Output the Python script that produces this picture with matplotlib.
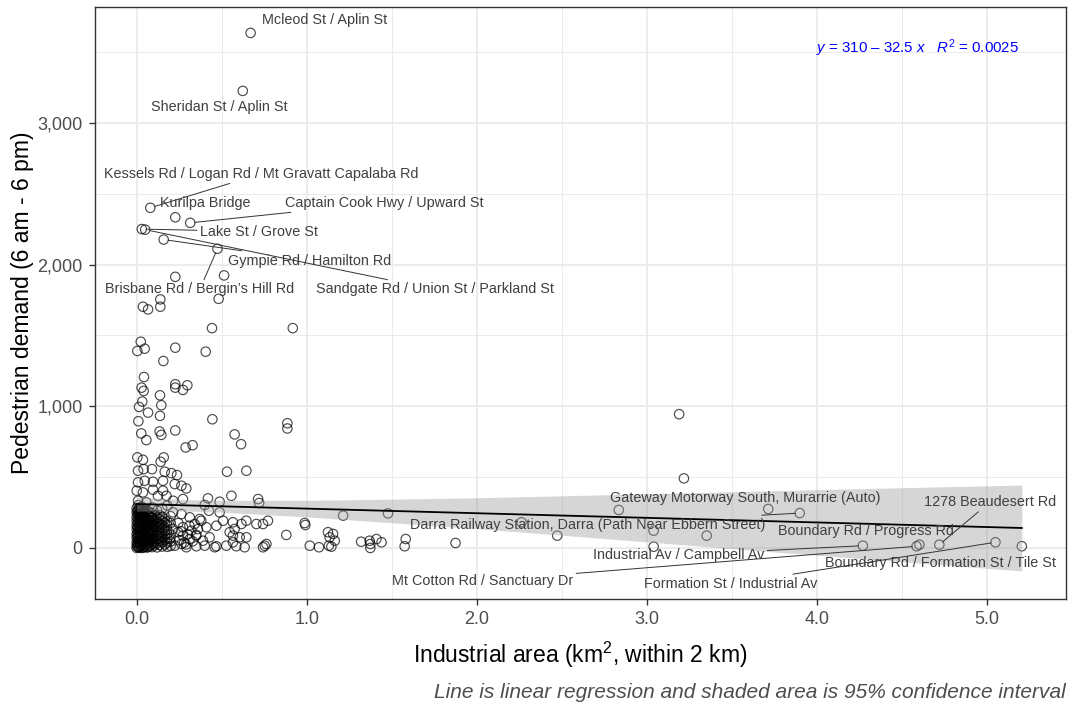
import matplotlib
matplotlib.use('Agg')
import matplotlib.pyplot as plt
from matplotlib.ticker import FuncFormatter, MultipleLocator

plt.rcParams['font.family'] = ['Liberation Sans', 'DejaVu Sans']
plt.rcParams['mathtext.fontset'] = 'custom'
plt.rcParams['mathtext.rm'] = 'Liberation Sans'
plt.rcParams['mathtext.it'] = 'Liberation Sans:italic'

# sites: industrial area within 2 km (km2) and pedestrian counts 6am-6pm
industrial_km2 = [
    0.67, 0.624, 0.08, 0.227, 0.315, 0.03, 0.05, 0.159, 0.475,
    0.227, 0.514, 0.482, 0.139, 0.037, 0.067, 0.139, 0.443, 0.918,
    0.024, 0.004, 0.047, 0.227, 0.406, 0.157,
    0.043, 0.029, 0.041, 0.227, 0.227, 0.272, 0.298,
    0.137, 0.033, 0.145, 0.014, 0.067, 0.137, 0.01, 0.445, 0.886, 0.886,
    0.027, 0.057, 0.135, 0.145, 0.227, 0.576, 0.614, 0.288, 0.329,
    0.004, 0.037, 0.159, 0.141,
    0.008, 0.041, 0.09, 0.165, 0.204, 0.237, 0.531, 0.645,
    0.008, 0.047, 0.096, 0.155, 0.224, 0.263,
    0.0, 0.037, 0.096, 0.155, 0.292, 0.175, 0.125,
    0.008, 0.057, 0.214, 0.272, 0.419, 0.488, 0.557, 0.714, 0.72,
    0.4, 0.425, 0.488, 0.214, 0.263, 0.312, 0.371,
    0.341, 0.38, 0.41, 0.469,
    0.508, 0.566, 0.616, 0.645, 0.704, 0.743, 0.772, 0.576, 0.566, 0.547, 0.606, 0.645,
    0.88, 0.988, 0.992, 1.125, 1.155, 1.135, 1.018, 1.072, 1.13,
    0.753, 0.763, 0.743,
    0.635, 0.566, 0.586, 0.527, 0.459, 0.469, 0.4, 0.351, 0.292, 0.263, 0.224,
    0.429, 0.39, 0.351, 0.312, 0.272, 0.243, 0.214, 0.194, 0.322, 0.272,
    1.214, 1.478, 1.165, 1.145, 1.32, 1.37, 1.374, 1.374, 1.41, 1.44, 1.582, 1.576, 1.875,
    2.263, 2.473, 2.835, 3.04, 3.04, 3.218, 3.19, 3.352, 3.714, 3.899,
    4.27, 4.586, 4.603, 4.72, 5.05, 5.205,
    # dense cluster near zero industrial area
    0.0, 0.0, 0.0, 0.0, 0.0, 0.0, 0.0, 0.0, 0.0, 0.0, 0.0,
    0.01, 0.01, 0.01, 0.01, 0.01, 0.01, 0.01, 0.01, 0.01, 0.01, 0.01,
    0.02, 0.02, 0.02, 0.02, 0.02, 0.02, 0.02, 0.02, 0.02, 0.02,
    0.03, 0.03, 0.03, 0.03, 0.03, 0.03, 0.03, 0.03, 0.03, 0.03, 0.03,
    0.045, 0.045, 0.045, 0.045, 0.045, 0.045, 0.045, 0.045, 0.045, 0.045,
    0.06, 0.06, 0.06, 0.06, 0.06, 0.06, 0.06, 0.06, 0.06, 0.06,
    0.075, 0.075, 0.075, 0.075, 0.075, 0.075, 0.075, 0.075, 0.075,
    0.09, 0.09, 0.09, 0.09, 0.09, 0.09, 0.09, 0.09, 0.09, 0.09,
    0.105, 0.105, 0.105, 0.105, 0.105, 0.105, 0.105, 0.105,
    0.12, 0.12, 0.12, 0.12, 0.12, 0.12, 0.12, 0.12, 0.12,
    0.135, 0.135, 0.135, 0.135, 0.135, 0.135, 0.135, 0.135,
    0.15, 0.15, 0.15, 0.15, 0.15, 0.15, 0.15, 0.15, 0.15,
    0.165, 0.165, 0.165, 0.165, 0.165, 0.165, 0.165,
    0.18, 0.18, 0.18, 0.18, 0.18, 0.18, 0.18, 0.18,
    0.2, 0.2, 0.2, 0.2, 0.2,
    0.005, 0.005, 0.005, 0.005, 0.005, 0.005, 0.005, 0.005,
    0.015, 0.015, 0.015, 0.015, 0.015, 0.015, 0.015, 0.015,
    0.025, 0.025, 0.025, 0.025, 0.025, 0.025, 0.025,
    0.038, 0.038, 0.038, 0.038, 0.038, 0.038, 0.038, 0.038,
    0.052, 0.052, 0.052, 0.052, 0.052, 0.052, 0.052,
    0.068, 0.068, 0.068, 0.068, 0.068, 0.068, 0.068,
    0.082, 0.082, 0.082, 0.082, 0.082, 0.082,
    0.097, 0.097, 0.097, 0.097, 0.097,
    0.25, 0.26, 0.28, 0.3, 0.33, 0.36, 0.245, 0.29, 0.31, 0.35,
]
ped_demand = [
    3634, 3225, 2400, 2333, 2294, 2250, 2246, 2176, 2111,
    1913, 1923, 1758, 1754, 1702, 1683, 1702, 1551, 1551,
    1455, 1390, 1406, 1413, 1385, 1319,
    1206, 1131, 1108, 1155, 1131, 1115, 1148,
    1077, 1033, 1007, 995, 955, 932, 894, 908, 880, 843,
    808, 761, 822, 798, 829, 801, 732, 709, 725,
    639, 622, 639, 608,
    545, 556, 556, 538, 528, 514, 538, 545,
    463, 474, 467, 474, 451, 439,
    404, 392, 411, 404, 420, 368, 368,
    333, 322, 333, 345, 350, 326, 368, 345, 317,
    303, 263, 251, 251, 239, 216, 204,
    169, 192, 146, 157,
    192, 181, 169, 192, 169, 169, 192, 134, 87, 111, 75, 75,
    92, 176, 162, 111, 99, 75, 16, 5, 16,
    16, 28, 5,
    5, 40, 12, 16, 5, 12, 16, 12, 5, 28, 16,
    75, 51, 87, 63, 87, 111, 134, 63, 122, 146,
    228, 244, 51, 9, 44, 51, 28, 0, 63, 40, 63, 12, 35,
    181, 87, 268, 122, 9, 491, 944, 87, 275, 246,
    16, 12, 23, 23, 40, 12,
    0, 17, 41, 72, 98, 133, 158, 191, 219, 252, 281,
    5, 26, 53, 86, 121, 149, 182, 208, 243, 268, 302,
    11, 33, 62, 89, 112, 141, 173, 203, 228, 262,
    0, 21, 48, 81, 104, 136, 166, 194, 226, 254, 291,
    8, 31, 64, 96, 124, 157, 184, 216, 244, 276,
    3, 27, 59, 87, 119, 147, 179, 207, 239, 267,
    12, 43, 71, 103, 131, 163, 191, 223, 251,
    6, 35, 67, 95, 127, 155, 187, 215, 247, 286,
    18, 47, 79, 107, 139, 167, 199, 229,
    4, 34, 63, 94, 125, 153, 185, 213, 264,
    22, 51, 83, 111, 143, 171, 203, 231,
    10, 41, 69, 101, 129, 161, 189, 221, 279,
    25, 56, 84, 116, 144, 176, 204,
    8, 38, 67, 99, 127, 159, 187, 299,
    15, 46, 94, 176, 224,
    9, 37, 76, 108, 146, 177, 233, 262,
    2, 44, 79, 116, 161, 197, 236, 284,
    14, 57, 95, 128, 188, 221, 273,
    3, 36, 58, 113, 151, 201, 235, 263,
    16, 52, 93, 134, 172, 212, 258,
    7, 43, 76, 115, 152, 196, 231,
    21, 58, 92, 137, 174, 213,
    27, 63, 118, 151, 198,
    54, 118, 38, 96, 47, 133, 176, 24, 157, 92,
]

# linear fit shown on the chart
fit_intercept = 310
fit_slope = -32.5
fit_r2 = 0.0025

# 95% confidence band
ci_x = [0, 0.3, 0.5, 1.0, 1.5, 2.0, 2.5, 3.0, 3.5, 4.0, 4.5, 5.205]
ci_lo = [260, 260, 252, 219, 178, 136, 90, 43, -5, -51, -97, -162]
ci_hi = [360, 340, 336, 336, 344, 354, 368, 382, 397, 411, 425, 444]

# labelled sites
label_names = [
    'Mcleod St / Aplin St', 'Sheridan St / Aplin St',
    'Kessels Rd / Logan Rd / Mt Gravatt Capalaba Rd', 'Kurilpa Bridge',
    'Captain Cook Hwy / Upward St', 'Lake St / Grove St',
    'Gympie Rd / Hamilton Rd', 'Brisbane Rd / Bergin\u2019s Hill Rd',
    'Sandgate Rd / Union St / Parkland St',
    'Gateway Motorway South, Murarrie (Auto)',
    'Darra Railway Station, Darra (Path Near Ebbern Street)',
    '1278 Beaudesert Rd', 'Boundary Rd / Progress Rd',
    'Industrial Av / Campbell Av', 'Mt Cotton Rd / Sanctuary Dr',
    'Boundary Rd / Formation St / Tile St', 'Formation St / Industrial Av',
]
label_x = [0.67, 0.624, 0.08, 0.227, 0.315, 0.03, 0.159, 0.475, 0.05,
           3.218, 3.899, 4.72, 4.603, 4.27, 4.586, 5.205, 5.05]
label_y = [3634, 3225, 2400, 2333, 2294, 2250, 2176, 2111, 2246,
           491, 246, 23, 23, 16, 12, 12, 40]
label_tx = [1.103, 0.488, 0.735, 0.406, 1.459, 0.718, 1.018, 0.371, 1.753,
            3.576, 2.653, 5.018, 4.288, 3.188, 2.035, 4.724, 3.494]
label_ty = [3725, 3113, 2641, 2437, 2437, 2232, 2028, 1824, 1824,
            352, 162, 324, 120, -49, -232, -106, -254]
label_seg = [False, False, True, False, True, True, True, True, True,
             False, True, True, False, True, True, False, True]

fig = plt.figure(figsize=(10.77, 7.06), dpi=100)
ax = fig.add_axes([0.0879, 0.1516, 0.9019, 0.8385])

ax.scatter(industrial_km2, ped_demand, s=46, facecolors='none',
           edgecolors='black', linewidths=0.85, alpha=0.7, zorder=3)

ax.fill_between(ci_x, ci_lo, ci_hi, color='#999999', alpha=0.4, lw=0, zorder=4)
x_ends = [min(industrial_km2), max(industrial_km2)]
ax.plot(x_ends, [fit_intercept + fit_slope * v for v in x_ends],
        color='black', lw=1.3, zorder=5)

for name, px, py, tx, ty, seg in zip(label_names, label_x, label_y,
                                     label_tx, label_ty, label_seg):
    arrow = dict(arrowstyle='-', color='#333333', lw=0.7, shrinkA=0, shrinkB=3) if seg else None
    ax.annotate(name, xy=(px, py), xytext=(tx, ty), ha='center', va='center',
                fontsize=10.4, color='#404040', arrowprops=arrow, zorder=6)

eq = f'$y$ = {fit_intercept:g} \u2013 {abs(fit_slope):g} $x$   $R^2$ = {fit_r2:g}'
ax.text(4.59, 3528, eq, color='blue', ha='center', va='center', fontsize=10.8, zorder=6)

ax.set_xlim(-0.247, 5.465)
ax.set_ylim(-360, 3817)
ax.xaxis.set_major_locator(MultipleLocator(1))
ax.xaxis.set_minor_locator(MultipleLocator(0.5))
ax.yaxis.set_major_locator(MultipleLocator(1000))
ax.yaxis.set_minor_locator(MultipleLocator(500))
ax.xaxis.set_major_formatter(FuncFormatter(lambda v, p: f'{v:.1f}'))
ax.yaxis.set_major_formatter(FuncFormatter(lambda v, p: f'{v:,.0f}'))

ax.set_axisbelow(True)
ax.grid(which='major', color='#EBEBEB', lw=1.3)
ax.grid(which='minor', color='#EBEBEB', lw=0.7)
ax.tick_params(which='major', length=4.5, width=1, color='#333333',
               labelcolor='#4D4D4D', labelsize=13, pad=4)
ax.tick_params(which='minor', length=0)
for sp in ax.spines.values():
    sp.set_color('#333333')
    sp.set_linewidth(1.0)

ax.set_xlabel('Industrial area (km$^2$, within 2 km)', fontsize=16.5, va='center')
ax.xaxis.set_label_coords(0.5, -0.0946)
ax.set_ylabel('Pedestrian demand (6 am - 6 pm)', fontsize=16.5, va='center')
ax.yaxis.set_label_coords(-0.0738, 0.5)

fig.text(1066 / 1077, 1 - 692 / 706,
         'Line is linear regression and shaded area is 95% confidence interval',
         ha='right', va='center', fontsize=15, style='italic', color='#4D4D4D')

fig.savefig('out.png', dpi=100)
plt.close(fig)
